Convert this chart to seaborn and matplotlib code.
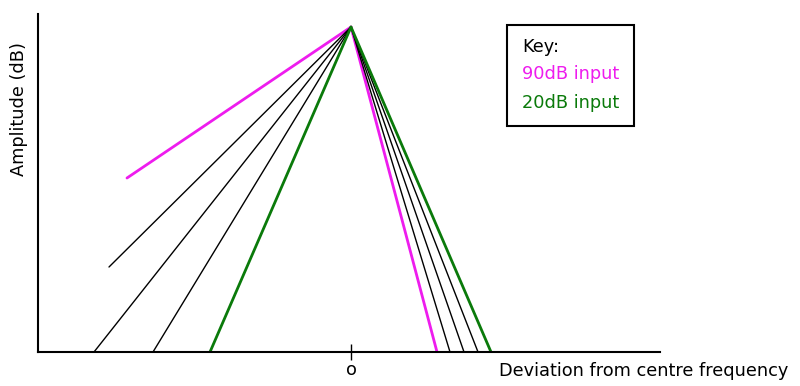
import matplotlib
matplotlib.use("Agg")
import matplotlib.pyplot as plt
import seaborn as sns
import pandas as pd
from matplotlib.patches import Rectangle

# Data (deviation from centre frequency, amplitude) in arbitrary units
peak_x, peak_y = 0, 325
seg_names = ["m_left", "k_left1", "k_left2", "k_left3", "g_left",
             "m_right", "k_right1", "k_right2", "k_right3", "g_right"]
seg_groups = ["90dB", "mid", "mid", "mid", "20dB",
              "90dB", "mid", "mid", "mid", "20dB"]
end_x = [-224, -242, -257, -198, -141, 86, 99, 113, 127, 140]
end_y = [174, 85, 0, 0, 0, 0, 0, 0, 0, 0]
x_ticks = [0]
x_tick_labels = ["o"]

rows = []
for name, grp, ex, ey in zip(seg_names, seg_groups, end_x, end_y):
    rows.append({"seg": name, "group": grp, "x": ex, "y": ey, "order": 0})
    rows.append({"seg": name, "group": grp, "x": peak_x, "y": peak_y, "order": 1})
df = pd.DataFrame(rows)

sns.set_theme(style="white")
plt.rcParams["font.family"] = ["DejaVu Sans"]
plt.rcParams["text.color"] = "black"
plt.rcParams["xtick.color"] = "black"

W, H = 800, 386
FS = 12.8
fig = plt.figure(figsize=(8, 3.86), dpi=100)
ax = fig.add_axes([38 / W, (H - 352) / H, (660 - 38) / W, (352 - 14) / H])

palette = {"90dB": "#ee1cee", "mid": "#000000", "20dB": "#0a7a0a"}
sizes = {"90dB": 2.0, "mid": 1.0, "20dB": 2.0}
sns.lineplot(data=df, x="x", y="y", units="seg", hue="group", size="group",
             estimator=None, sort=False, palette=palette, sizes=sizes,
             legend=False, ax=ax)

ax.set_xlim(-313, 309)
ax.set_ylim(0, 338)
for s in ["top", "right"]:
    ax.spines[s].set_visible(False)
for s in ["left", "bottom"]:
    ax.spines[s].set_color("black")
    ax.spines[s].set_linewidth(1.5)
ax.set_yticks([])
ax.set_xticks(x_ticks)
ax.set_xticklabels(x_tick_labels, fontsize=FS, color="black")
ax.tick_params(axis="x", direction="inout", length=11, width=1.0,
               color="black", pad=1, bottom=True)
ax.set_xlabel("")
ax.set_ylabel("")
ax.grid(False)

fig.text(19 / W, 1 - 109 / H, "Amplitude (dB)", rotation=90,
         ha="center", va="center", fontsize=FS, color="black")
fig.text(644 / W, 1 - 371 / H, "Deviation from centre frequency",
         ha="center", va="center", fontsize=FS, color="black")

fig.add_artist(Rectangle((507 / W, 1 - 126 / H), (634 - 507) / W, (126 - 25) / H,
                         transform=fig.transFigure, fill=False,
                         edgecolor="black", linewidth=1.5))
fig.text(522 / W, 1 - 47 / H, "Key:", ha="left", va="center", fontsize=FS,
         color="black")
fig.text(522 / W, 1 - 74 / H, "90dB input", ha="left", va="center",
         fontsize=FS, color=palette["90dB"])
fig.text(522 / W, 1 - 103 / H, "20dB input", ha="left", va="center",
         fontsize=FS, color=palette["20dB"])

fig.savefig("out.png", dpi=100, facecolor="white")
